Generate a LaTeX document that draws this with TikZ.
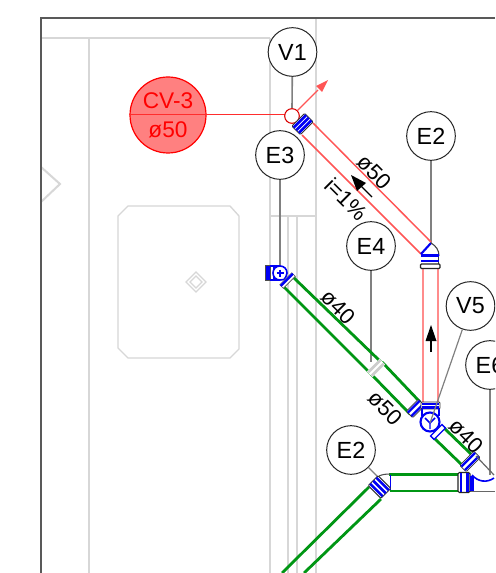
\documentclass[tikz,border=0pt]{standalone}
\usepackage{fontspec}
\setmainfont{Liberation Sans}
\definecolor{pipegreen}{RGB}{0,150,20}
\definecolor{pipered}{RGB}{255,85,85}
\definecolor{pipepink}{RGB}{255,140,140}
\definecolor{bgline}{RGB}{215,215,215}
\definecolor{puref}{RGB}{0,0,245}
\definecolor{cvline}{RGB}{255,45,45}
\tikzset{
  bgl/.style={draw=bgline,line width=1.5pt},
  bgthin/.style={draw=bgline,line width=1pt},
  frameline/.style={draw=black!65,line width=1.1pt},
  tagc/.style={circle,draw=black!85,fill=white,line width=.75pt,minimum size=36.5pt,inner sep=0pt,font=\fontsize{17.5}{19}\selectfont},
  leader/.style={draw=black!50,line width=1.2pt},
  gpipe/.style={draw=pipegreen,line width=2.1pt},
  rpipe/.style={draw=pipered,line width=1.1pt},
  ppipe/.style={draw=pipepink,line width=1.8pt},
  bluel/.style={draw=puref,line width=1.2pt},
  bluet/.style={draw=puref,line width=2.2pt},
  plabel/.style={font=\fontsize{16.5}{18}\selectfont,inner sep=0pt},
  cvfill/.style={fill=red!50,draw=red,line width=.9pt},
}
% coupling: centre x,y (px), rotation, half length, half width
\newcommand{\coupling}[5]{%
  \begin{scope}[shift={(#1,#2)},x=.75pt,y=.75pt,rotate=#3]
    \draw[fill=white,draw=black!80,line width=.7pt,rounded corners=.8pt] (-#4,-#5) rectangle (#4,#5);
    \foreach \s in {-.62,0,.62} {\draw[puref,line width=1.9pt] ({\s*#4},-#5+.3) -- ({\s*#4},#5-.3);}
  \end{scope}}
\newcommand{\couplingtwo}[5]{%
  \begin{scope}[shift={(#1,#2)},x=.75pt,y=.75pt,rotate=#3]
    \draw[fill=white,draw=black!80,line width=.6pt,rounded corners=.8pt] (-#4,-#5) rectangle (#4,#5);
    \foreach \s in {-.55,.55} {\draw[puref,line width=1.8pt] ({\s*#4},-#5+.3) -- ({\s*#4},#5-.3);}
  \end{scope}}
\begin{document}
\begin{tikzpicture}[x=.75pt,y=-.75pt]
\clip (0,0) rectangle (495,573);
\fill[white] (0,0) rectangle (495,573);
% background plan
\draw[bgthin] (41,38) -- (270,38);
\draw[bgl] (89,38) -- (89,573);
\draw[bgl] (270,38) -- (270,573);
\draw[bgl] (316,18) -- (316,573);
\draw[bgthin] (270,216) -- (316,216);
\draw[bgl] (288,216) -- (288,573);
\draw[bgl] (297,216) -- (297,573);
\draw[bgl] (41,167) -- (60,184) -- (41,202);
\draw[bgthin] (128,206) -- (230,206) -- (239,216) -- (239,349) -- (230,358) -- (128,358) -- (118,348) -- (118,216) -- cycle;
\draw[bgthin] (196,272) -- (206,282) -- (196,292) -- (186,282) -- cycle;
\draw[bgthin] (196,276) -- (202,282) -- (196,288) -- (190,282) -- cycle;
\draw[frameline] (495,18) -- (41,18) -- (41,573);
% tags
\node[tagc] (v1) at (292.5,52) {V1};
\node[tagc] (e3) at (280,155) {E3};
\node[tagc] (e2a) at (431,136) {E2};
\node[tagc] (e4) at (371,246) {E4};
\node[tagc] (v5) at (470.5,306) {V5};
\node[tagc] (e6) at (490,365) {E6};
\node[tagc] (e2b) at (351,450) {E2};
% anchor points of leaders
\coordinate (pv1) at (292,108);
\coordinate (pe3) at (280,270);
\coordinate (pe2a) at (431,243);
\coordinate (pe4) at (371,362);
\coordinate (pv5) at (430,423);
\coordinate (pe6) at (490,475);
\coordinate (pe2b) at (378,477);
\draw[leader] (v1) -- (pv1);
\draw[leader] (e3) -- (pe3);
\draw[leader] (e2a) -- (pe2a);
\draw[leader] (e4) -- (pe4);
\draw[leader] (e6) -- (pe6);
\draw[leader,line width=.9pt] (e2b) -- (pe2b);
% red pipes
\draw[rpipe] (313,123) -- (431,242);
\draw[rpipe] (302,135) -- (421,254);
\draw[ppipe] (423,268) -- (423,403);
\draw[ppipe] (438,268) -- (438,403);
% CV-3
\node[circle,cvfill,minimum size=57pt,inner sep=0pt] (cv) at (168,115) {};
\draw[draw=cvline,line width=.75pt] (cv.west) -- (285,115);
\node[text=red,font=\fontsize{17}{19}\selectfont,inner sep=0pt] (cvt) at (168,101) {CV-3};
\node[text=red,font=\fontsize{17}{19}\selectfont,inner sep=0pt] (cvd) at (168,130) {ø50};
% vent symbol
\node[circle,draw=red!85!black,fill=white,line width=.8pt,minimum size=11pt,inner sep=0pt] (vent) at (292,116) {};
\draw[pipered,line width=1pt] (vent.45) -- (318,90);
\fill[pipered] (328,80) -- (316,86) -- (322,92) -- cycle;
\coupling{302.5}{124}{-45}{6}{9}
% green pipes
\draw[gpipe] (293,277) -- (382,363) (382,362) -- (420,402);
\draw[gpipe] (283,286) -- (370,373) -- (410,414);
\draw[gpipe] (443,427) -- (473,456);
\draw[gpipe] (433,437) -- (462,465);
\draw[gpipe] (389,474.5) -- (459,474.5);
\draw[gpipe] (390,491) -- (459,491);
\draw[gpipe] (369,487) -- (282,573);
\draw[gpipe] (381,499) -- (304,573);
% grey coupling
\begin{scope}[shift={(376,368)},x=.75pt,y=.75pt,rotate=-45]
  \fill[white] (-4,-9) rectangle (4,9);
  \draw[black!20,line width=2pt] (-2.5,-8.5) -- (-2.5,8.5) (2.5,-8.5) -- (2.5,8.5);
\end{scope}
% E2 elbow upper
\draw[bluel,line width=1.6pt] (421,254) -- (431,243);
\draw[black!75,line width=.8pt] (431,243) .. controls (436,246) and (439,250) .. (439,256);
\draw[black!75,line width=.7pt] (438.5,256) -- (438.5,264);
\draw[puref,line width=2.6pt] (421,255.5) -- (439,255.5);
\draw[puref,line width=2pt] (421,261) -- (439,261);
\draw[black!85,fill=white,line width=.9pt,rounded corners=.8pt] (420.5,264) rectangle (440,268.5);
% E3 fitting
\fill[puref] (265,265) rectangle (270,280);
\draw[black!70,line width=.5pt] (265,265) rectangle (270,280);
\draw[bluel] (270,266) -- (280,266) (270,280) -- (280,280);
\draw[bluet] (274.5,266) -- (274.5,280);
\draw[bluel,fill=white] (280,266) .. controls (284,266) and (287,269) .. (287,273) .. controls (287,276) and (285,278) .. (284,279.5) -- (280,280) .. controls (276,280) and (273,277) .. (273,273) .. controls (273,269) and (276,266) .. (280,266);
\draw[puref,line width=.8pt] (276.5,273) -- (283.5,273) (280,269.5) -- (280,276.5);
\begin{scope}[shift={(287.5,280.5)},x=.75pt,y=.75pt,rotate=-45]
  \draw[black!70,fill=white,line width=.5pt] (-2.5,-8.5) rectangle (2.5,8.5);
  \draw[puref,line width=1.9pt] (-1,-8.5) -- (-1,8.5);
\end{scope}
% Y junction V5
\couplingtwo{415.5}{408.5}{-45}{4.5}{8.5}
\begin{scope}[shift={(438,432)},x=.75pt,y=.75pt,rotate=-45]
  \draw[fill=white,draw=puref,line width=1pt] (-2.5,-8) rectangle (2.5,8);
\end{scope}
\draw[black!80,fill=white,line width=.7pt,rounded corners=.8pt] (421,402) rectangle (440,409);
\draw[puref,line width=2.2pt] (422,404) -- (439,404);
\draw[puref,line width=1.6pt] (422,407.5) -- (439,407.5);
\draw[bluel,line width=1.5pt] (422,409) -- (422,416) (439,409) -- (439,416);
\draw[bluel,line width=1.6pt,fill=white] (430,422) circle[radius=9.5];
\draw[puref,line width=1.1pt] (425,418) -- (430,423) -- (435,418) (430,423) -- (430,429);
\draw[leader,line width=.9pt] (v5) -- (pv5);
% elbow E6
\couplingtwo{470}{461.5}{-45}{4.5}{10}
\draw[black!60,line width=.9pt] (476,456) -- (494,475);
\draw[puref,line width=1.2pt] (472,475) .. controls (478,482) and (487,483) .. (494,478);
\draw[black!60,line width=.9pt] (470,491.5) -- (495,491.5);
\draw[black!85,fill=white,line width=.8pt,rounded corners=1pt] (458,472.5) rectangle (470,492.5);
\draw[puref,line width=1.8pt] (461,473) -- (461,492) (467.5,473) -- (467.5,492);
\draw[puref,line width=2.6pt] (472,476) -- (472,491);
% E2 lower coupling
\draw[black!70,line width=.8pt] (379,476) .. controls (382,474.5) and (386,474) .. (390,474);
\draw[puref,line width=1.3pt] (390.5,475) -- (390.5,490);
\coupling{379.5}{487}{45}{7}{9}
% flow arrows
\draw[black,line width=1pt] (431,352) -- (431,338);
\fill[black] (431,325) -- (425.5,341) -- (436.5,341) -- cycle;
\draw[black,line width=1pt] (372,197) -- (360,185);
\fill[black] (351,175) -- (357,191) -- (366,183) -- cycle;
% labels
\node[plabel,rotate=-45] (l1) at (374,172) {ø50};
\node[plabel,rotate=-45] (l2) at (346,199) {i=1\%};
\node[plabel,rotate=-45] (l3) at (338,307) {ø40};
\node[plabel,rotate=-45] (l4) at (385,408) {ø50};
\node[plabel,rotate=-45] (l5) at (466,436) {ø40};
\end{tikzpicture}
\end{document}
